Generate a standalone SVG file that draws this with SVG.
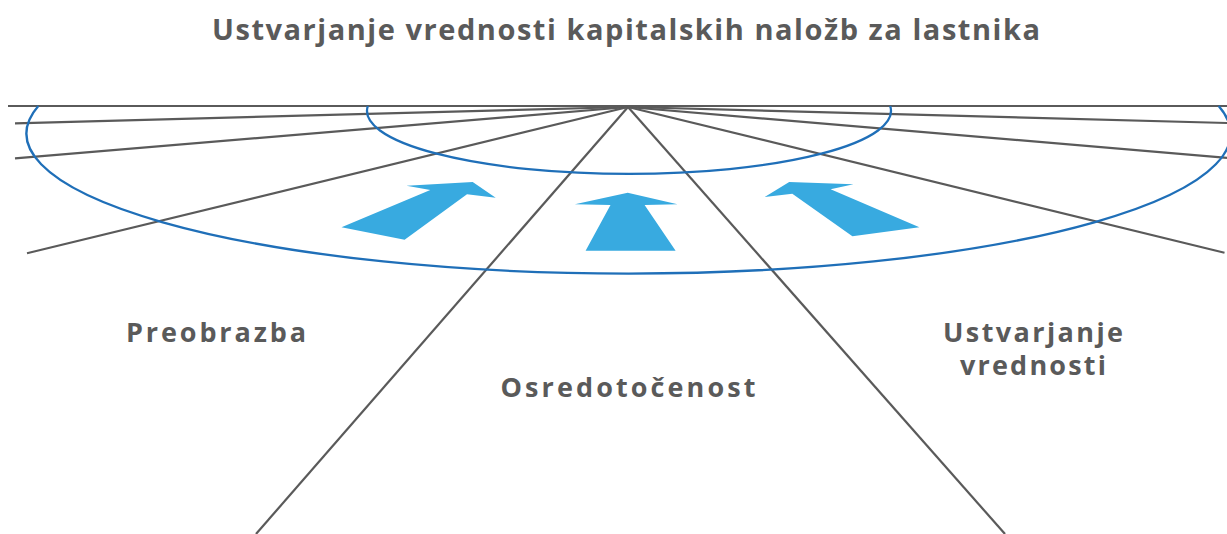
<svg xmlns="http://www.w3.org/2000/svg" width="1227" height="534" viewBox="0 0 1227 534">
<style>
.ray{stroke:#5a5a5a;stroke-width:2.2;fill:none;stroke-linecap:butt}
.ring{stroke:#1f6fb8;stroke-width:2.3;fill:none}
.arrow{fill:#38aae0}
.lbl{font-family:"Open Sans","Liberation Sans",sans-serif;font-weight:700;fill:#5a5a5a;text-anchor:middle}
</style>
<rect width="1227" height="534" fill="#ffffff"/>
<g id="title"><text class="lbl" x="626" y="40" font-size="29" textLength="828" lengthAdjust="spacing">Ustvarjanje vrednosti kapitalskih naložb za lastnika</text></g>
<g id="connectors">
<line class="ray" x1="8" y1="106" x2="1227" y2="106"/>
<line class="ray" x1="628" y1="107" x2="15" y2="123.3"/>
<line class="ray" x1="628" y1="107" x2="15" y2="158.3"/>
<line class="ray" x1="628" y1="107" x2="27" y2="253.3"/>
<line class="ray" x1="628" y1="107" x2="256" y2="534"/>
<line class="ray" x1="628" y1="107" x2="1227" y2="123"/>
<line class="ray" x1="628" y1="107" x2="1227" y2="157.8"/>
<line class="ray" x1="628" y1="107" x2="1224.5" y2="252.7"/>
<line class="ray" x1="628" y1="107" x2="1005" y2="534"/>
</g>
<g id="rings">
<path class="ring" d="M 38.3 106 A 602 140 0 1 0 1218.7 106"/>
<path class="ring" d="M 367.8 106 A 262 63 0 1 0 890.2 106"/>
</g>
<g id="arrow-left"><polygon class="arrow" points="406.5,185.7 472.7,182 495.7,197.7 467,194.3 404.6,239.7 341.5,227.3 430.3,190"/></g>
<g id="arrow-middle"><polygon class="arrow" points="627.7,192.7 677.5,204.3 644.6,205 675.6,250.7 585.6,250.7 610.5,205 574.9,204.3"/></g>
<g id="arrow-right"><polygon class="arrow" points="853.5,184.3 789.2,182 764.7,197 792.3,193.7 852.4,236.3 919.4,227.3 830.6,189.3"/></g>
<g id="node-preobrazba"><text class="lbl" x="216" y="342" font-size="27" textLength="180" lengthAdjust="spacing">Preobrazba</text></g>
<g id="node-osredotocenost"><text class="lbl" x="628" y="397" font-size="27" textLength="255" lengthAdjust="spacing">Osredotočenost</text></g>
<g id="node-ustvarjanje"><text class="lbl" x="1033" y="342" font-size="27" textLength="180" lengthAdjust="spacing">Ustvarjanje</text><text class="lbl" x="1033" y="375" font-size="27" textLength="146" lengthAdjust="spacing">vrednosti</text></g>
</svg>
